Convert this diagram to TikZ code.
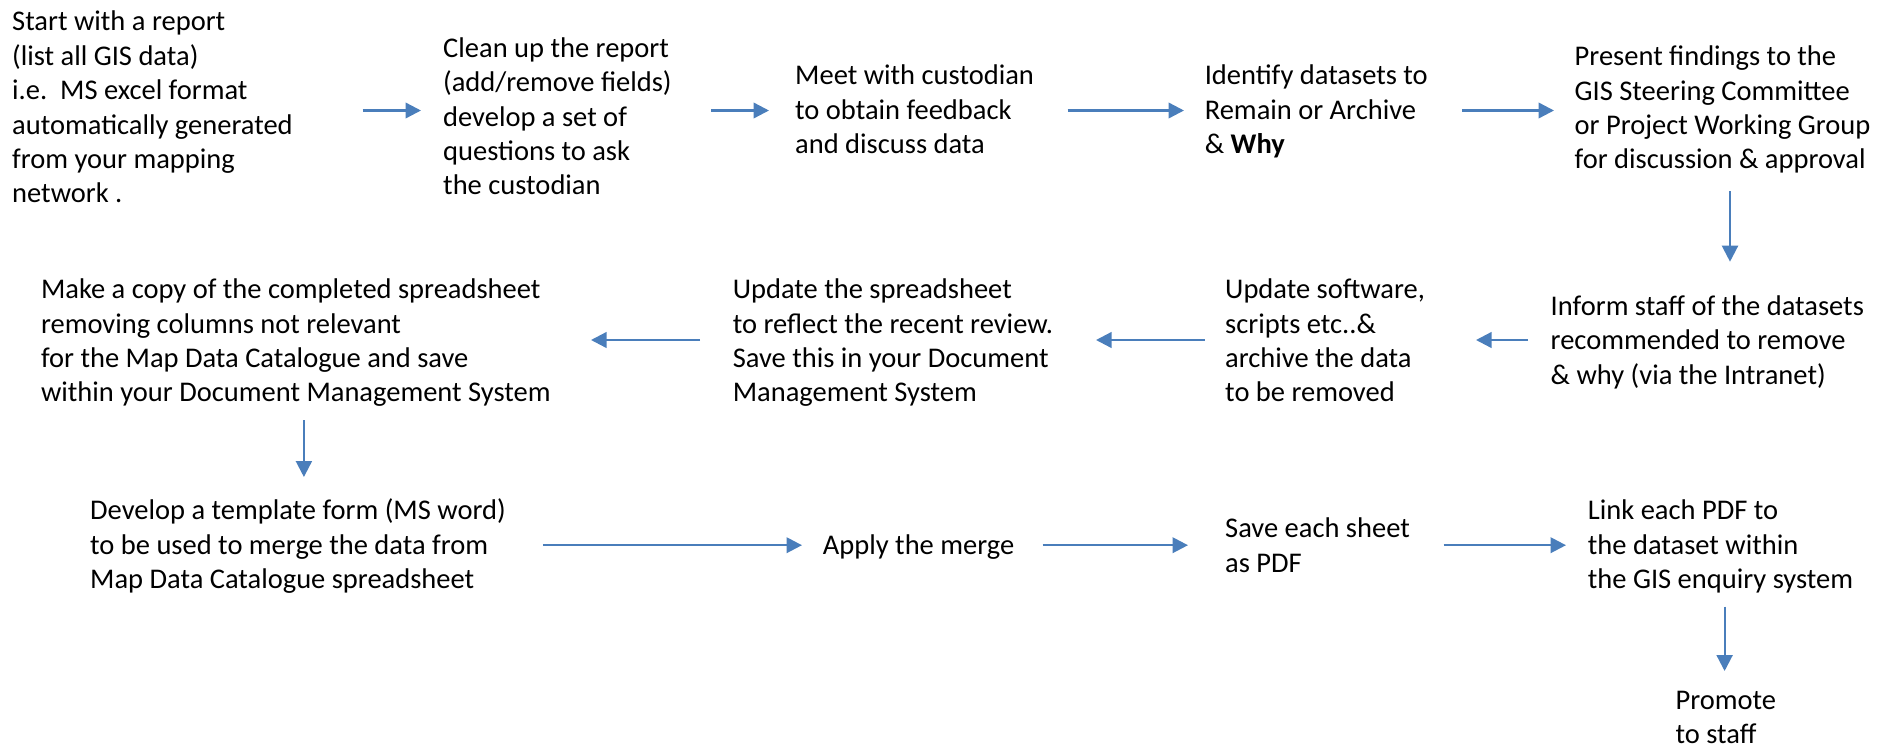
\documentclass[tikz,border=0pt]{standalone}
\usepackage{fontspec}
\setmainfont{Carlito}
\usetikzlibrary{arrows.meta}
\definecolor{arrblue}{RGB}{74,126,187}
\begin{document}
\begin{tikzpicture}[x=1pt,y=-1pt,
  txt/.style={anchor=north west, inner sep=0pt, align=left, font=\fontsize{28.5}{34.4}\selectfont},
  arr/.style={draw=arrblue, line width=2.4pt, -{Triangle[length=15.5pt,width=15.5pt]}},
  varr/.style={draw=arrblue, line width=2.2pt, -{Triangle[length=16pt,width=16pt]}}]
\useasboundingbox (0,0) rectangle (1883,750);
% row 1
\node[txt] (A) at (12,6.6) {\strut Start with a report\\(list all GIS data)\\i.e.\ \ MS excel format\\automatically generated\\from your mapping\\network .};
\node[txt] (B) at (443,33) {\strut Clean up the report\\(add/remove fields)\\develop a set of\\questions to ask\\the custodian};
\node[txt] (C) at (795,60.7) {\strut Meet with custodian\\to obtain feedback\\and discuss data};
\node[txt] (D) at (1204.6,60.7) {\strut Identify datasets to\\Remain or Archive\\\& \textbf{Why}};
\node[txt] (E) at (1574.5,41.4) {\strut Present findings to the\\GIS Steering Committee\\or Project Working Group\\for discussion \& approval};
% row 2
\node[txt] (F) at (1550.5,291) {\strut Inform staff of the datasets\\recommended to remove\\\& why (via the Intranet)};
\node[txt] (G) at (1225,274.4) {\strut Update software,\\scripts etc..\&\\archive the data\\to be removed};
\node[txt] (H) at (732.6,274.4) {\strut Update the spreadsheet\\to reflect the recent review.\\Save this in your Document\\Management System};
\node[txt] (I) at (40.8,274.4) {\strut Make a copy of the completed spreadsheet\\removing columns not relevant\\for the Map Data Catalogue and save\\within your Document Management System};
% row 3
\node[txt] (J) at (90,495.4) {\strut Develop a template form (MS word)\\to be used to merge the data from\\Map Data Catalogue spreadsheet};
\node[txt] (K) at (822.7,530.2) {\strut Apply the merge};
\node[txt] (L) at (1225,513.4) {\strut Save each sheet\\as PDF};
\node[txt] (M) at (1587.7,495.4) {\strut Link each PDF to\\the dataset within\\the GIS enquiry system};
\node[txt] (N) at (1675.4,685.2) {\strut Promote\\to staff};
% connector end points
\coordinate (a1s) at (362.7,110.5); \coordinate (a1e) at (421,110.5);
\coordinate (a2s) at (711,110.5);   \coordinate (a2e) at (769,110.5);
\coordinate (a3s) at (1067.7,110.5);\coordinate (a3e) at (1184,110.5);
\coordinate (a4s) at (1462,110.5);  \coordinate (a4e) at (1554,110.5);
\coordinate (a5s) at (1730,191);    \coordinate (a5e) at (1730,261.7);
\coordinate (a6s) at (1528,340);    \coordinate (a6e) at (1476,340);
\coordinate (a7s) at (1204.6,340);  \coordinate (a7e) at (1096,340);
\coordinate (a8s) at (700,340);     \coordinate (a8e) at (591,340);
\coordinate (a9s) at (303.9,420);   \coordinate (a9e) at (303.9,477);
\coordinate (a10s) at (542.9,545.2);\coordinate (a10e) at (802,545.2);
\coordinate (a11s) at (1042.5,545.2);\coordinate (a11e) at (1188,545.2);
\coordinate (a12s) at (1443.6,545.2);\coordinate (a12e) at (1566,545.2);
\coordinate (a13s) at (1724.6,606.5);\coordinate (a13e) at (1724.6,671);
\draw[arr] (a1s) -- (a1e);
\draw[arr] (a2s) -- (a2e);
\draw[arr] (a3s) -- (a3e);
\draw[arr] (a4s) -- (a4e);
\draw[varr] (a5s) -- (a5e);
\draw[arr] (a6s) -- (a6e);
\draw[arr] (a7s) -- (a7e);
\draw[arr] (a8s) -- (a8e);
\draw[varr] (a9s) -- (a9e);
\draw[arr] (a10s) -- (a10e);
\draw[arr] (a11s) -- (a11e);
\draw[arr] (a12s) -- (a12e);
\draw[varr] (a13s) -- (a13e);
\end{tikzpicture}
\end{document}
